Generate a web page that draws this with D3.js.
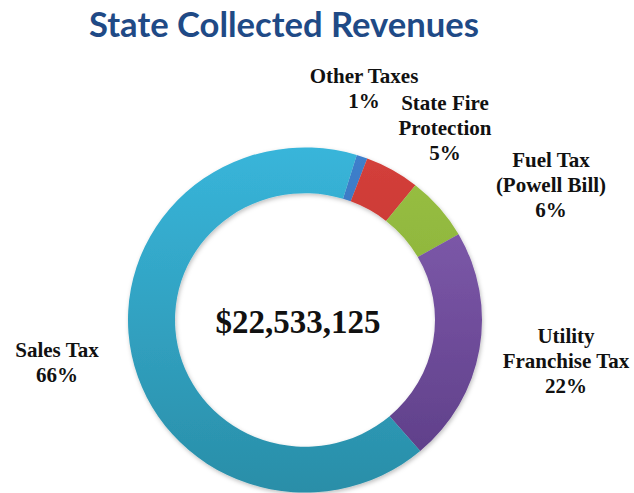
<!DOCTYPE html>
<html>
<head>
<meta charset="utf-8">
<script src="https://cdn.jsdelivr.net/npm/d3@7"></script>
<style>
  body { margin: 0; background: #fff; }
  .lbl { font-family: "Liberation Serif", "Times New Roman", serif; font-weight: bold; font-size: 21px; fill: #111; }
</style>
</head>
<body>
<div id="vis_container"></div>
<script>
// Revenue categories, in clockwise order from the top of the ring
var categories = ["Other Taxes", "State Fire Protection", "Fuel Tax (Powell Bill)", "Utility Franchise Tax", "Sales Tax"];
var shares = [1, 5, 6, 22, 66];
var total_label = "$22,533,125";

// label text lines for each category
var label_lines = [
  ["Other Taxes", "1%"],
  ["State Fire", "Protection", "5%"],
  ["Fuel Tax", "(Powell Bill)", "6%"],
  ["Utility", "Franchise Tax", "22%"],
  ["Sales Tax", "66%"]
];

var width = 634, height = 493;
var cx = 305, cy = 320;
var outer = 177, inner = 130;

// top and bottom colour of each slice (they get a soft vertical gradient)
var colors = [
  ["#3f80cc", "#2f62a6"],
  ["#d4403b", "#b52a28"],
  ["#99c043", "#7ea532"],
  ["#8660b3", "#5b3c85"],
  ["#38b5da", "#2a8ea8"]
];

// where the label blocks sit (centre x, first baseline)
var label_pos = [[364, 83], [445, 110], [551, 167], [566, 343], [57, 357]];

var svg = d3.select("#vis_container")
  .append("svg")
  .attr("width", width)
  .attr("height", height);

var defs = svg.append("defs");
colors.forEach(function(c, i) {
  var g = defs.append("linearGradient")
    .attr("id", "grad" + i)
    .attr("gradientUnits", "userSpaceOnUse")
    .attr("x1", 0).attr("y1", -outer)
    .attr("x2", 0).attr("y2", outer);
  g.append("stop").attr("offset", "0%").attr("stop-color", c[0]);
  g.append("stop").attr("offset", "100%").attr("stop-color", c[1]);
});

var shadow = defs.append("filter").attr("id", "shadow")
  .attr("x", "-10%").attr("y", "-10%").attr("width", "120%").attr("height", "120%");
shadow.append("feDropShadow")
  .attr("dx", 1).attr("dy", 2).attr("stdDeviation", 2)
  .attr("flood-color", "#000").attr("flood-opacity", 0.25);

// title
svg.append("text")
  .attr("x", 284)
  .attr("y", 37)
  .attr("text-anchor", "middle")
  .attr("textLength", 390)
  .attr("lengthAdjust", "spacingAndGlyphs")
  .style("font-family", "Lato, 'Open Sans', sans-serif")
  .style("font-weight", "bold")
  .style("font-size", "34px")
  .style("fill", "#1f4a86")
  .text("State Collected Revenues");

var pie = d3.pie()
  .sort(null)
  .startAngle(17 * Math.PI / 180)
  .endAngle(17 * Math.PI / 180 + 2 * Math.PI);

var arc = d3.arc().innerRadius(inner).outerRadius(outer);

var ring = svg.append("g")
  .attr("transform", "translate(" + cx + "," + cy + ") scale(1,0.975)")
  .attr("filter", "url(#shadow)");

ring.selectAll("path")
  .data(pie(shares))
  .enter().append("path")
  .attr("d", arc)
  .attr("fill", function(d, i) { return "url(#grad" + i + ")"; });

// centre total
svg.append("text")
  .attr("class", "lbl")
  .attr("x", 298)
  .attr("y", 333)
  .attr("text-anchor", "middle")
  .style("font-size", "33px")
  .text(total_label);

// category labels
var labels = svg.selectAll(".catlabel")
  .data(label_lines)
  .enter().append("text")
  .attr("class", "lbl catlabel")
  .attr("text-anchor", "middle")
  .attr("x", function(d, i) { return label_pos[i][0]; })
  .attr("y", function(d, i) { return label_pos[i][1]; });

labels.selectAll("tspan")
  .data(function(d, i) { return d.map(function(t) { return {t: t, i: i}; }); })
  .enter().append("tspan")
  .attr("x", function(d) { return label_pos[d.i][0]; })
  .attr("dy", function(d, j) { return j == 0 ? 0 : 25; })
  .text(function(d) { return d.t; });
</script>
</body>
</html>
